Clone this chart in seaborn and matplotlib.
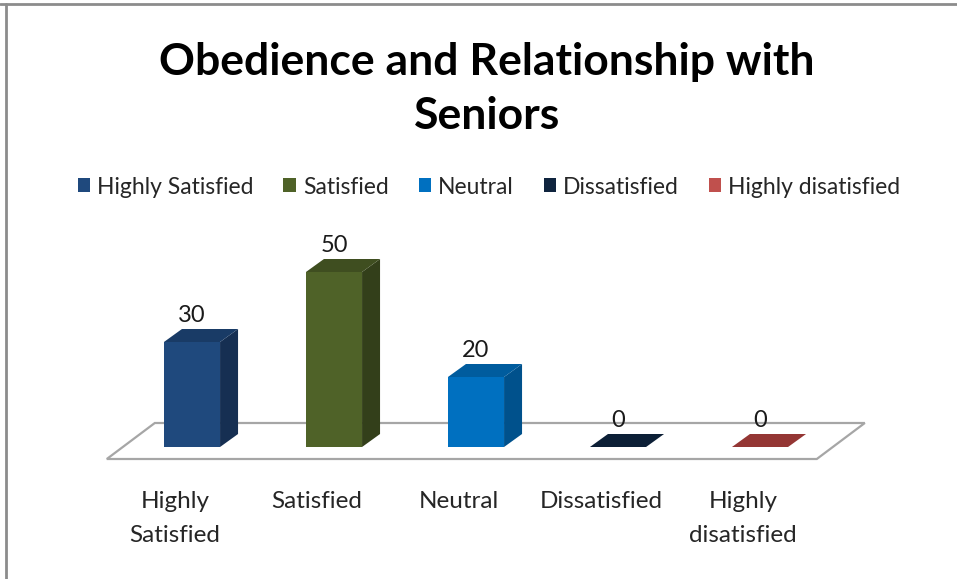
import matplotlib
matplotlib.use("Agg")
import matplotlib.pyplot as plt
import seaborn as sns
import numpy as np
from matplotlib.patches import Polygon, Patch
from matplotlib.lines import Line2D

categories = ["Highly Satisfied", "Satisfied", "Neutral", "Dissatisfied", "Highly disatisfied"]
tick_labels = ["Highly\nSatisfied", "Satisfied", "Neutral", "Dissatisfied", "Highly\ndisatisfied"]
values = [30, 50, 20, 0, 0]
title = "Obedience and Relationship with\nSeniors"

front_colors = ["#1F497D", "#4F6228", "#0070C0", "#0F243E", "#C0504D"]
side_colors = ["#162F52", "#333F1A", "#00518C", "#0A1829", "#7E2F2D"]
top_colors = ["#193B66", "#3F4E20", "#005C9E", "#0C1F36", "#943634"]

sns.set_theme(style="white")
plt.rcParams["font.family"] = ["Lato", "DejaVu Sans"]

W, H = 957, 579
fig = plt.figure(figsize=(W / 100, H / 100), dpi=100)

# axes placement (pixel based)
x0_px, px_per_cat = 192, 142
y0_px, px_per_unit = 447, 3.5
xlim = (-0.75, 4.75)
ylim = (-35, 60)
left = x0_px + px_per_cat * xlim[0]
right = x0_px + px_per_cat * xlim[1]
top = y0_px - px_per_unit * ylim[1]
bottom = y0_px - px_per_unit * ylim[0]
ax = fig.add_axes([left / W, 1 - bottom / H, (right - left) / W, (bottom - top) / H])

# depth of the 3D bars in data units
dx = 18 / px_per_cat
dy = 13 / px_per_unit

# floor
fdx = 48 / px_per_cat
fdy = 36 / px_per_unit
fx0 = -0.5 - 0.1
fx1 = len(categories) - 0.5 - 0.1
fy0 = -12 / px_per_unit
floor = Polygon([(fx0, fy0), (fx1, fy0), (fx1 + fdx, fy0 + fdy), (fx0 + fdx, fy0 + fdy)],
                closed=True, facecolor="white", edgecolor="#A6A6A6", linewidth=1.6, zorder=0)
ax.add_patch(floor)

sns.barplot(x=categories, y=values, hue=categories, palette=front_colors, width=0.395,
            legend=False, ax=ax, saturation=1, linewidth=0, zorder=2)

bars = [pp for pp in ax.patches if not isinstance(pp, Polygon)]
for i, p in enumerate(bars):
    x, w, h = p.get_x(), p.get_width(), p.get_height()
    side = Polygon([(x + w, 0), (x + w + dx, dy), (x + w + dx, h + dy), (x + w, h)],
                   closed=True, facecolor=side_colors[i], edgecolor="none", zorder=2)
    topf = Polygon([(x, h), (x + w, h), (x + w + dx, h + dy), (x + dx, h + dy)],
                   closed=True, facecolor=top_colors[i], edgecolor="none", zorder=2)
    ax.add_patch(side)
    ax.add_patch(topf)
    ax.annotate(f"{values[i]}", (x + w / 2, h + dy), xytext=(0, 2), textcoords="offset points",
                ha="center", va="bottom", fontsize=17, color="#1a1a1a")

for i, lab in enumerate(tick_labels):
    ax.text(i - 0.12, -12.7, lab, ha="center", va="top", fontsize=17.5, color="#262626",
            linespacing=1.75)

ax.set_xlim(*xlim)
ax.set_ylim(*ylim)
ax.axis("off")

fig.text(487 / W, 1 - 89 / H, title, ha="center", va="center", fontsize=32,
         fontweight="bold", color="black", linespacing=1.42)

handles = [Patch(facecolor=c, edgecolor="none", label=l) for c, l in zip(front_colors, categories)]
fig.legend(handles=handles, loc="center", bbox_to_anchor=(489 / W, 1 - 187 / H), ncol=5,
           frameon=False, fontsize=16.5, handlelength=0.55, handleheight=0.55, handletextpad=0.3,
           columnspacing=1.3, labelcolor="#262626")

# frame fragments
fig.add_artist(Line2D([0, 1], [1 - 4 / H, 1 - 4 / H], color="#8C8C8C", linewidth=2))
fig.add_artist(Line2D([6 / W, 6 / W], [0, 1 - 4 / H], color="#8C8C8C", linewidth=2))

fig.savefig("out.png", dpi=100, facecolor="white")
